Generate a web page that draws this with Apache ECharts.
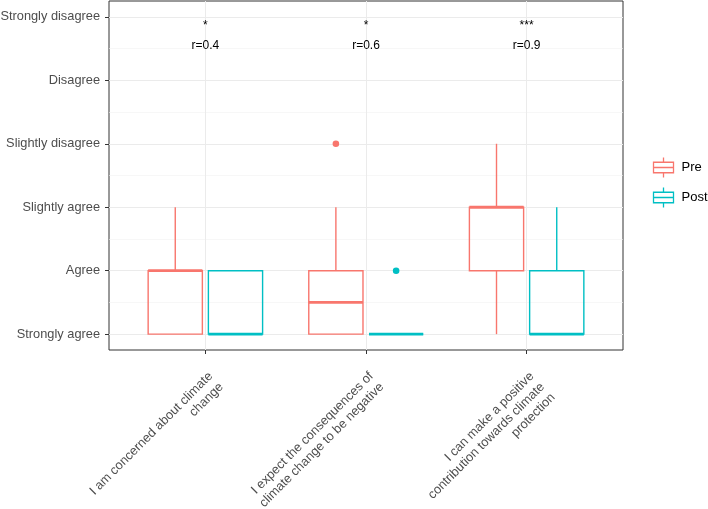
<!DOCTYPE html>
<html><head><meta charset="utf-8">
<script src="https://cdn.jsdelivr.net/npm/echarts@6/dist/echarts.min.js"></script>
<style>html,body{margin:0;padding:0;background:#fff}#c{width:708px;height:509px}</style>
</head><body><div id="c"></div>
<script>
// ---- data ----
const categories = ['I am concerned about climate\nchange', 'I expect the consequences of\nclimate change to be negative', 'I can make a positive\ncontribution towards climate\nprotection'];
const levels = ['Strongly agree', 'Agree', 'Slightly agree', 'Slightly disagree', 'Disagree', 'Strongly disagree'];
const levelValues = [1, 2, 3, 4, 5, 6];
const catPositions = [1, 2, 3];
// [category, min, q1, median, q3, max]
const preStats = [[1, 1, 1, 2, 2, 3], [2, 1, 1, 1.5, 2, 3], [3, 1, 2, 3, 3, 4]];
const postStats = [[1, 1, 1, 1, 2, 2], [2, 1, 1, 1, 1, 1], [3, 1, 1, 1, 2, 3]];
const preOutliers = [[2, 4]];
const postOutliers = [[2, 2]];
const sigLabels = ['*', '*', '***'];
const rLabels = ['r=0.4', 'r=0.6', 'r=0.9'];
const sigY = 5.86;
const rY = 5.55;
const minorValues = [1.5, 2.5, 3.5, 4.5, 5.5];

const PRE = '#F8766D', POST = '#00BFC4';
const DODGE = 0.1875, BOXW = 0.3375;
const FONT = 'Liberation Sans, Arial, sans-serif';

function boxRender(dodge, color) {
  return function (params, api) {
    const x = api.value(0) + dodge;
    const lo = api.value(1), q1 = api.value(2), med = api.value(3), q3 = api.value(4), hi = api.value(5);
    const half = api.size([BOXW, 0])[0] / 2;
    const pLo = api.coord([x, lo]), pQ1 = api.coord([x, q1]), pMed = api.coord([x, med]), pQ3 = api.coord([x, q3]), pHi = api.coord([x, hi]);
    const cx = pMed[0];
    const st = { stroke: color, lineWidth: 1.4, fill: null };
    const ch = [];
    if (hi > q3) ch.push({ type: 'line', shape: { x1: cx, y1: pQ3[1], x2: cx, y2: pHi[1] }, style: st });
    if (lo < q1) ch.push({ type: 'line', shape: { x1: cx, y1: pQ1[1], x2: cx, y2: pLo[1] }, style: st });
    ch.push({ type: 'rect', shape: { x: cx - half, y: pQ3[1], width: 2 * half, height: pQ1[1] - pQ3[1] }, style: { stroke: color, lineWidth: 1.4, fill: 'none' } });
    ch.push({ type: 'line', shape: { x1: cx - half, y1: pMed[1], x2: cx + half, y2: pMed[1] }, style: { stroke: color, lineWidth: 2.8 } });
    return { type: 'group', children: ch };
  };
}
function outlierRender(dodge, color) {
  return function (params, api) {
    const p = api.coord([api.value(0) + dodge, api.value(1)]);
    return { type: 'circle', shape: { cx: p[0], cy: p[1], r: 3.3 }, style: { fill: color } };
  };
}
function textRender(labels, y) {
  return function (params, api) {
    const p = api.coord([api.value(0), y]);
    return { type: 'text', x: p[0], y: p[1], style: { text: labels[params.dataIndex], fill: '#000', font: '12px ' + FONT, align: 'center', verticalAlign: 'middle' } };
  };
}

const iconPath = 'path://M10.5,0L10.5,5M0,5L21,5L21,16L0,16ZM0,10.5L21,10.5M10.5,16L10.5,21';

const option = {
  animation: false,
  backgroundColor: '#fff',
  grid: { left: 109, right: 85, top: 1, bottom: 159, show: true, borderColor: '#333', borderWidth: 1, backgroundColor: 'transparent', outerBoundsMode: 'none', containLabel: false },
  legend: {
    left: 651, top: 155, orient: 'vertical', itemWidth: 20, itemHeight: 21, itemGap: 5, padding: 0,
    textStyle: { fontFamily: FONT, fontSize: 13, color: '#000', padding: [0, 0, 0, 3] },
    data: [
      { name: 'Pre', icon: iconPath, itemStyle: { color: 'none', borderColor: PRE, borderWidth: 1.3 } },
      { name: 'Post', icon: iconPath, itemStyle: { color: 'none', borderColor: POST, borderWidth: 1.3 } }
    ]
  },
  xAxis: [{
    type: 'value', min: 0.4, max: 3.6,
    axisLine: { show: false },
    axisTick: { show: true, length: 4, lineStyle: { color: '#333' }, customValues: catPositions },
    axisLabel: { customValues: catPositions, rotate: 45, margin: 19, color: '#4D4D4D', fontFamily: FONT, fontSize: 12.8, lineHeight: 15, align: 'right', verticalAlign: 'top',
      formatter: v => categories[Math.round(v) - 1] || '' },
    splitLine: { show: true, lineStyle: { color: '#EBEBEB', width: 1 } }
  }],
  yAxis: [{
    type: 'value', min: 0.75, max: 6.25,
    axisLine: { show: false },
    axisTick: { show: true, length: 4, lineStyle: { color: '#333' }, customValues: levelValues },
    axisLabel: { customValues: levelValues, margin: 9, color: '#4D4D4D', fontFamily: FONT, fontSize: 12.8,
      formatter: v => levels[Math.round(v) - 1] || '' },
    splitLine: { show: true, lineStyle: { color: '#EBEBEB', width: 1 } }
  }, {
    type: 'value', min: 0.75, max: 6.25, position: 'left',
    axisLine: { show: false },
    axisTick: { show: false, customValues: minorValues },
    axisLabel: { show: false, customValues: minorValues },
    splitLine: { show: true, lineStyle: { color: '#F2F2F2', width: 0.6 } }
  }],
  series: [
    { name: 'Pre', type: 'custom', renderItem: boxRender(-DODGE, PRE), data: preStats, encode: { x: 0, y: [1, 2, 3, 4, 5] }, itemStyle: { color: PRE }, z: 3 },
    { name: 'Post', type: 'custom', renderItem: boxRender(DODGE, POST), data: postStats, encode: { x: 0, y: [1, 2, 3, 4, 5] }, itemStyle: { color: POST }, z: 3 },
    { name: 'Pre', type: 'custom', renderItem: outlierRender(-DODGE, PRE), data: preOutliers, encode: { x: 0, y: 1 }, itemStyle: { color: PRE }, z: 4 },
    { name: 'Post', type: 'custom', renderItem: outlierRender(DODGE, POST), data: postOutliers, encode: { x: 0, y: 1 }, itemStyle: { color: POST }, z: 4 },
    { name: 'sig', type: 'custom', renderItem: textRender(sigLabels, sigY), data: catPositions.map(c => [c]), encode: { x: 0 }, z: 5 },
    { name: 'r', type: 'custom', renderItem: textRender(rLabels, rY), data: catPositions.map(c => [c]), encode: { x: 0 }, z: 5 }
  ]
};
const chart = echarts.init(document.getElementById('c'), null, { renderer: 'canvas' });
chart.setOption(option);
</script></body></html>
